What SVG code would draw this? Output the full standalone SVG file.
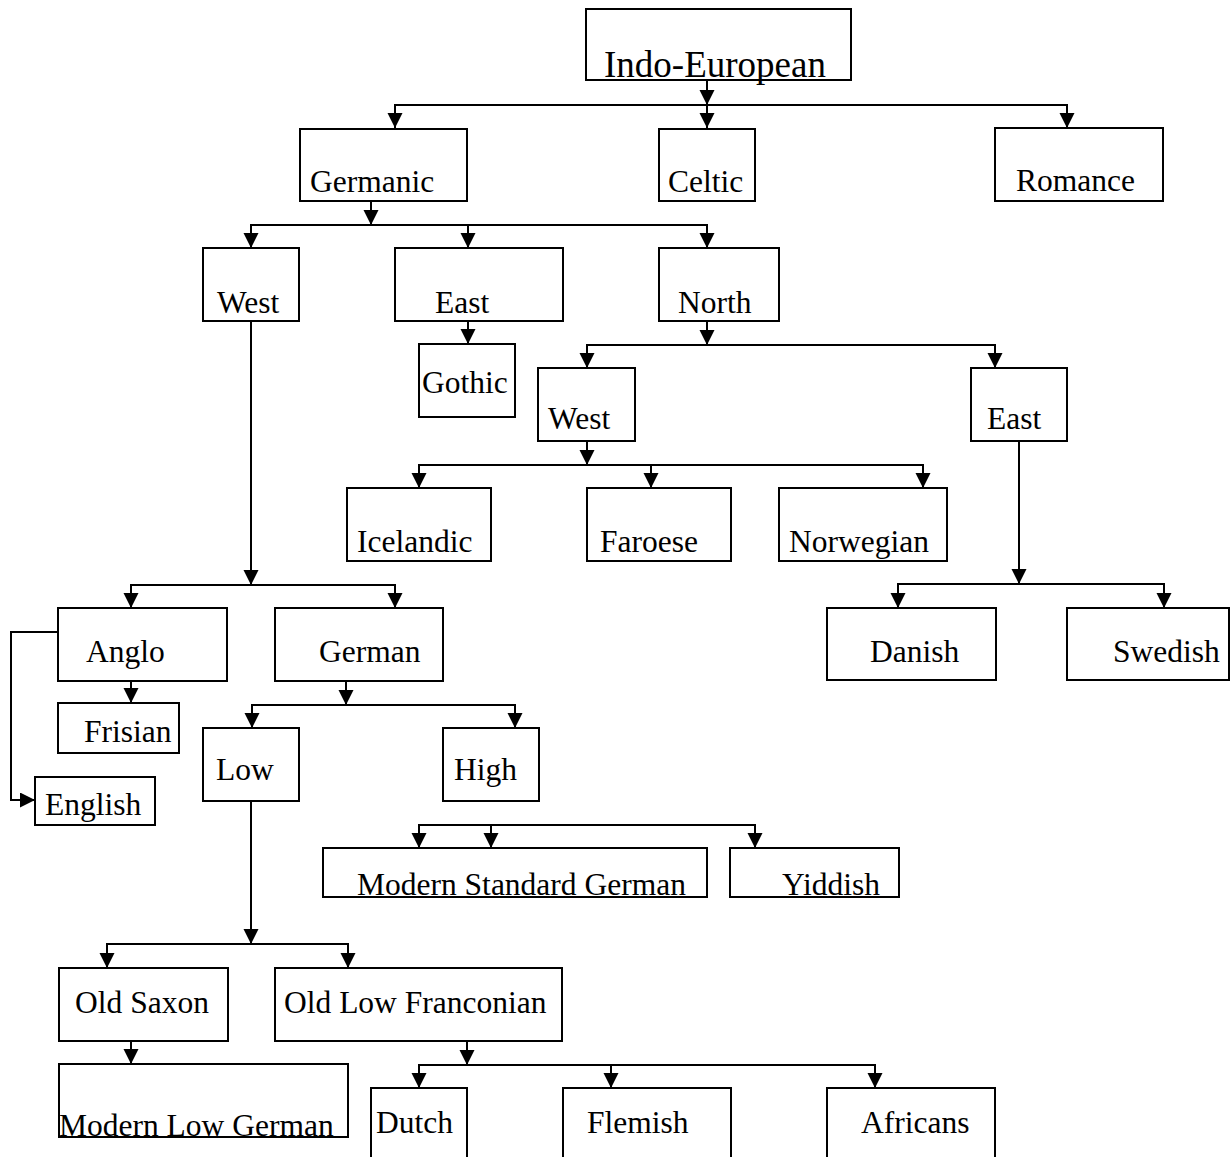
<svg xmlns="http://www.w3.org/2000/svg" width="1230" height="1157" viewBox="0 0 1230 1157">
<defs>
<marker id="arr" markerUnits="userSpaceOnUse" markerWidth="16" markerHeight="16" refX="15" refY="7.5" orient="auto">
<path d="M0,0 L15,7.5 L0,15 Z" fill="#000"/>
</marker>
<style>
.box{fill:#fff;stroke:#000;stroke-width:2}
.lbl{font-family:"Liberation Serif","Times New Roman",serif;font-size:31.5px;fill:#000}
.big{font-size:37px}
.c{fill:none;stroke:#000;stroke-width:2}
.a{marker-end:url(#arr)}
</style>
</defs>
<rect width="1230" height="1157" fill="#fff"/>
<g id="nodes">
<g id="n-indo"><rect class="box" x="586" y="9" width="265" height="71"/><text class="lbl big" x="604" y="77">Indo-European</text></g>
<g id="n-germanic"><rect class="box" x="300" y="129" width="167" height="72"/><text class="lbl" x="310" y="192">Germanic</text></g>
<g id="n-celtic"><rect class="box" x="659" y="129" width="96" height="72"/><text class="lbl" x="668" y="192">Celtic</text></g>
<g id="n-romance"><rect class="box" x="995" y="128" width="168" height="73"/><text class="lbl" x="1016" y="191">Romance</text></g>
<g id="n-west"><rect class="box" x="203" y="248" width="96" height="73"/><text class="lbl" x="217" y="313">West</text></g>
<g id="n-east"><rect class="box" x="395" y="248" width="168" height="73"/><text class="lbl" x="435" y="313">East</text></g>
<g id="n-north"><rect class="box" x="659" y="248" width="120" height="73"/><text class="lbl" x="678" y="313">North</text></g>
<g id="n-gothic"><rect class="box" x="419" y="344" width="96" height="73"/><text class="lbl" x="422" y="393">Gothic</text></g>
<g id="n-north-west"><rect class="box" x="538" y="368" width="97" height="73"/><text class="lbl" x="548" y="429">West</text></g>
<g id="n-north-east"><rect class="box" x="971" y="368" width="96" height="73"/><text class="lbl" x="987" y="429">East</text></g>
<g id="n-icelandic"><rect class="box" x="347" y="488" width="144" height="73"/><text class="lbl" x="357" y="552">Icelandic</text></g>
<g id="n-faroese"><rect class="box" x="587" y="488" width="144" height="73"/><text class="lbl" x="600" y="552">Faroese</text></g>
<g id="n-norwegian"><rect class="box" x="779" y="488" width="168" height="73"/><text class="lbl" x="789" y="552">Norwegian</text></g>
<g id="n-anglo"><rect class="box" x="58" y="608" width="169" height="73"/><text class="lbl" x="86" y="662">Anglo</text></g>
<g id="n-german"><rect class="box" x="275" y="608" width="168" height="73"/><text class="lbl" x="319" y="662">German</text></g>
<g id="n-danish"><rect class="box" x="827" y="608" width="169" height="72"/><text class="lbl" x="870" y="662">Danish</text></g>
<g id="n-swedish"><rect class="box" x="1067" y="608" width="162" height="72"/><text class="lbl" x="1113" y="662">Swedish</text></g>
<g id="n-frisian"><rect class="box" x="58" y="703" width="121" height="50"/><text class="lbl" x="84" y="742">Frisian</text></g>
<g id="n-english"><rect class="box" x="35" y="777" width="120" height="48"/><text class="lbl" x="45" y="815">English</text></g>
<g id="n-low"><rect class="box" x="203" y="728" width="96" height="73"/><text class="lbl" x="216" y="780">Low</text></g>
<g id="n-high"><rect class="box" x="443" y="728" width="96" height="73"/><text class="lbl" x="454" y="780">High</text></g>
<g id="n-msg"><rect class="box" x="323" y="848" width="384" height="49"/><text class="lbl" x="357" y="895">Modern Standard German</text></g>
<g id="n-yiddish"><rect class="box" x="730" y="848" width="169" height="49"/><text class="lbl" x="782" y="895">Yiddish</text></g>
<g id="n-oldsaxon"><rect class="box" x="59" y="968" width="169" height="73"/><text class="lbl" x="75" y="1013">Old Saxon</text></g>
<g id="n-olf"><rect class="box" x="275" y="968" width="287" height="73"/><text class="lbl" x="284" y="1013">Old Low Franconian</text></g>
<g id="n-mlg"><rect class="box" x="59" y="1064" width="289" height="73"/><text class="lbl" x="59" y="1136">Modern Low German</text></g>
<g id="n-dutch"><rect class="box" x="371" y="1088" width="96" height="90"/><text class="lbl" x="376" y="1133">Dutch</text></g>
<g id="n-flemish"><rect class="box" x="563" y="1088" width="168" height="90"/><text class="lbl" x="587" y="1133">Flemish</text></g>
<g id="n-africans"><rect class="box" x="827" y="1088" width="168" height="90"/><text class="lbl" x="861" y="1133">Africans</text></g>
</g>
<g id="connectors">
<path class="c a" d="M707,80 V105"/>
<path class="c a" d="M707,105 H395 V128"/>
<path class="c a" d="M707,105 V128"/>
<path class="c a" d="M707,105 H1067 V128"/>
<path class="c a" d="M371,201 V225"/>
<path class="c a" d="M371,225 H251 V248"/>
<path class="c a" d="M371,225 H468 V248"/>
<path class="c a" d="M468,225 H707 V248"/>
<path class="c a" d="M468,321 V344"/>
<path class="c a" d="M707,321 V345"/>
<path class="c a" d="M707,345 H587 V368"/>
<path class="c a" d="M707,345 H995 V368"/>
<path class="c a" d="M587,441 V465"/>
<path class="c a" d="M587,465 H419 V488"/>
<path class="c a" d="M587,465 H651 V488"/>
<path class="c a" d="M651,465 H923 V488"/>
<path class="c a" d="M1019,441 V584"/>
<path class="c a" d="M1019,584 H898 V608"/>
<path class="c a" d="M1019,584 H1164 V608"/>
<path class="c a" d="M251,321 V585"/>
<path class="c a" d="M251,585 H131 V608"/>
<path class="c a" d="M251,585 H395 V608"/>
<path class="c a" d="M131,681 V703"/>
<path class="c a" d="M58,632 H11 V800 H35"/>
<path class="c a" d="M346,681 V705"/>
<path class="c a" d="M346,705 H252 V728"/>
<path class="c a" d="M346,705 H515 V728"/>
<path class="c a" d="M491,825 H419 V848"/>
<path class="c a" d="M491,825 V848"/>
<path class="c a" d="M491,825 H755 V848"/>
<path class="c a" d="M251,801 V944"/>
<path class="c a" d="M251,944 H107 V968"/>
<path class="c a" d="M251,944 H348 V968"/>
<path class="c a" d="M131,1041 V1064"/>
<path class="c a" d="M467,1041 V1065"/>
<path class="c a" d="M467,1065 H419 V1088"/>
<path class="c a" d="M467,1065 H611 V1088"/>
<path class="c a" d="M611,1065 H875 V1088"/>
</g>
</svg>
